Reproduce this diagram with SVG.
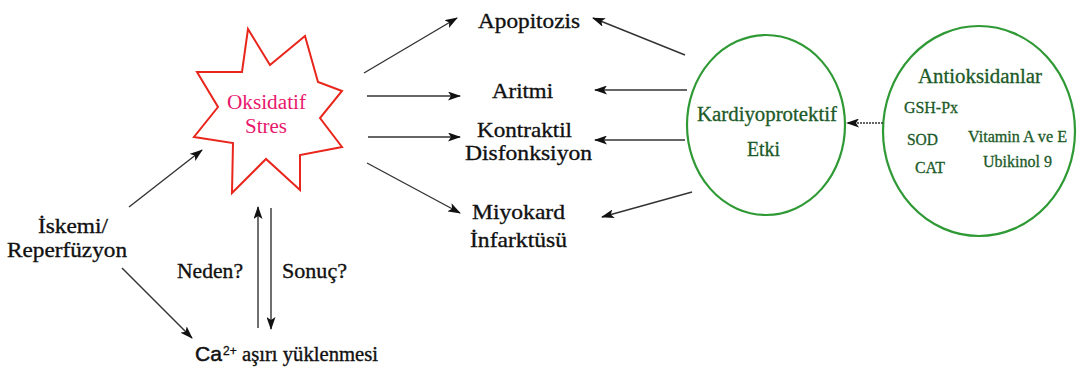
<svg xmlns="http://www.w3.org/2000/svg" width="1078" height="369" viewBox="0 0 1078 369">
<defs>
<style>
.t{font-family:"Liberation Serif","Times New Roman",serif;font-size:22px;fill:#111;stroke:#111;stroke-width:0.35}
.g{font-family:"Liberation Serif","Times New Roman",serif;fill:#1c5a28;stroke:#1c5a28;stroke-width:0.3}
.p{font-family:"Liberation Serif","Times New Roman",serif;font-size:20px;fill:#e8186c}
.ln{stroke:#333;stroke-width:1.4;fill:none;marker-end:url(#ah)}
.circ{fill:none;stroke:#2f9a35;stroke-width:2.2}
</style>
<marker id="ah" markerUnits="userSpaceOnUse" markerWidth="13" markerHeight="9" refX="12" refY="4.5" orient="auto">
<path d="M0,0 L13,4.5 L0,9 L3,4.5 z" fill="#111"/>
</marker>
</defs>
<rect width="1078" height="369" fill="#fff"/>

<g id="star">
<polygon points="248,29 270,65 305,36 318,82 342,91 320,118 342,147 300,155 300,190 266,159 232,193 233,143 194,137 218,107 197,72 242,72" fill="#fff" stroke="#e8261c" stroke-width="2"/>
<text class="p" x="227" y="109" textLength="79" lengthAdjust="spacingAndGlyphs">Oksidatif</text>
<text class="p" x="245" y="133" textLength="42" lengthAdjust="spacingAndGlyphs">Stres</text>
</g>

<g id="apopitozis"><text class="t" x="478" y="28" textLength="102" lengthAdjust="spacingAndGlyphs">Apopitozis</text></g>
<g id="aritmi"><text class="t" x="492" y="98" textLength="61" lengthAdjust="spacingAndGlyphs">Aritmi</text></g>
<g id="kontraktil">
<text class="t" x="477" y="137" textLength="95" lengthAdjust="spacingAndGlyphs">Kontraktil</text>
<text class="t" x="465" y="160" textLength="127" lengthAdjust="spacingAndGlyphs">Disfonksiyon</text>
</g>
<g id="miyokard">
<text class="t" x="472" y="219" textLength="93" lengthAdjust="spacingAndGlyphs">Miyokard</text>
<text class="t" x="470" y="247" textLength="97" lengthAdjust="spacingAndGlyphs">İnfarktüsü</text>
</g>

<g id="iskemi">
<text class="t" x="38" y="233" textLength="70" lengthAdjust="spacingAndGlyphs">İskemi/</text>
<text class="t" x="7" y="257" textLength="120" lengthAdjust="spacingAndGlyphs">Reperfüzyon</text>
</g>

<g id="ca">
<text x="195" y="361" font-family="Liberation Sans, Arial, sans-serif" font-size="21" fill="#111" stroke="#111" stroke-width="0.5" textLength="27" lengthAdjust="spacingAndGlyphs">Ca</text>
<text x="223" y="355" font-family="Liberation Sans, Arial, sans-serif" font-size="12" fill="#111" stroke="#111" stroke-width="0.3">2+</text>
<text class="t" x="242" y="361" style="font-size:20px" textLength="136" lengthAdjust="spacingAndGlyphs">aşırı yüklenmesi</text>
</g>

<g id="labels-neden-sonuc">
<text class="t" x="177" y="278" textLength="66" lengthAdjust="spacingAndGlyphs">Neden?</text>
<text class="t" x="282" y="278" textLength="65" lengthAdjust="spacingAndGlyphs">Sonuç?</text>
</g>

<g id="kardiyo">
<ellipse class="circ" cx="766" cy="125" rx="79" ry="90"/>
<text class="g" x="697" y="121" font-size="20" textLength="140" lengthAdjust="spacingAndGlyphs">Kardiyoprotektif</text>
<text class="g" x="747" y="156" font-size="20" textLength="33" lengthAdjust="spacingAndGlyphs">Etki</text>
</g>

<g id="antioksidanlar">
<ellipse class="circ" cx="979" cy="131" rx="96" ry="105"/>
<text class="g" x="918" y="83" font-size="20" textLength="124" lengthAdjust="spacingAndGlyphs">Antioksidanlar</text>
<text class="g" x="904" y="113" font-size="16" textLength="54" lengthAdjust="spacingAndGlyphs">GSH-Px</text>
<text class="g" x="907" y="145" font-size="16" textLength="31" lengthAdjust="spacingAndGlyphs">SOD</text>
<text class="g" x="915" y="173" font-size="16" textLength="30" lengthAdjust="spacingAndGlyphs">CAT</text>
<text class="g" x="968" y="142" font-size="16" textLength="99" lengthAdjust="spacingAndGlyphs">Vitamin A ve E</text>
<text class="g" x="983" y="167" font-size="16" textLength="69" lengthAdjust="spacingAndGlyphs">Ubikinol 9</text>
</g>

<g id="connectors">
<line class="ln" x1="364" y1="73" x2="457" y2="18"/>
<line class="ln" x1="367" y1="96" x2="460" y2="96" stroke="#777"/>
<line class="ln" x1="368" y1="137" x2="460" y2="137"/>
<line class="ln" x1="367" y1="163" x2="460" y2="213"/>
<line class="ln" x1="685" y1="55" x2="593" y2="18"/>
<line class="ln" x1="687" y1="90" x2="595" y2="90"/>
<line class="ln" x1="685" y1="140" x2="595" y2="140"/>
<line class="ln" x1="692" y1="192" x2="602" y2="217"/>
<line class="ln" x1="883" y1="123" x2="847" y2="123" stroke="#888" stroke-width="2" stroke-dasharray="2 1"/>
<line class="ln" x1="129" y1="207" x2="202" y2="150"/>
<line class="ln" x1="122" y1="268" x2="192" y2="338"/>
<line class="ln" x1="258" y1="328" x2="258" y2="207"/>
<line class="ln" x1="271" y1="208" x2="271" y2="329"/>
</g>
</svg>
